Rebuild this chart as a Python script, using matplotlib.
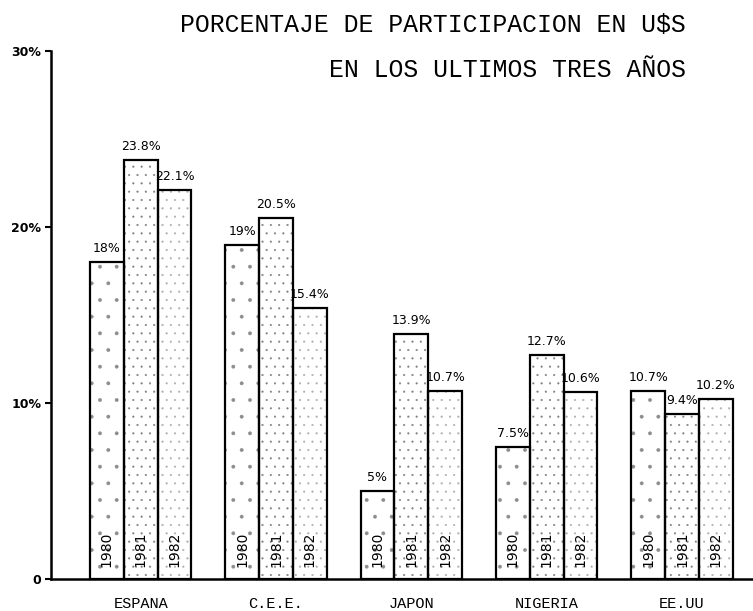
import matplotlib
matplotlib.use("Agg")
import matplotlib.pyplot as plt
import numpy as np

# data
countries = ["ESPANA", "C.E.E.", "JAPON", "NIGERIA", "EE.UU"]
years = ["1980", "1981", "1982"]
pct_1980 = [18, 19, 5, 7.5, 10.7]
pct_1981 = [23.8, 20.5, 13.9, 12.7, 9.4]
pct_1982 = [22.1, 15.4, 10.7, 10.6, 10.2]
y_ticks = [0, 10, 20, 30]
y_tick_labels = ["0", "10%", "20%", "30%"]

title_1 = "PORCENTAJE DE PARTICIPACION EN U$S"
title_2 = "EN LOS ULTIMOS TRES AÑOS"

series = [pct_1980, pct_1981, pct_1982]
hatches = [".", "..", ".."]
hatch_colors = ["0.55", "0.5", "0.68"]

plt.rcParams["hatch.linewidth"] = 0.3

fig = plt.figure(figsize=(7.53, 6.11), dpi=100)
ax = fig.add_axes([51 / 753, 32 / 611, 1 - 51 / 753, 528 / 611])

group_x = np.arange(len(countries)) * 4

for i, (vals, yr) in enumerate(zip(series, years)):
    xs = group_x + i
    # dotted fill (hatch takes the edge colour), then a black outline on top
    ax.bar(xs, vals, width=1, align="edge", facecolor="white",
           edgecolor=hatch_colors[i], linewidth=0, hatch=hatches[i], zorder=2)
    ax.bar(xs, vals, width=1, align="edge", facecolor="none",
           edgecolor="black", linewidth=1.6, zorder=3)
    for x, v in zip(xs, vals):
        # value on top of each bar
        ax.text(x + 0.5, v + 0.4, f"{v:g}%", ha="center", va="bottom",
                fontsize=9, family="DejaVu Sans")
        # year written up the bar
        ax.text(x + 0.5, 0.7, yr, rotation=90, ha="center", va="bottom",
                fontsize=10, family="DejaVu Sans", zorder=4)

ax.set_xlim(-1.15, 19.6)
ax.set_ylim(0, 30)

ax.spines["top"].set_visible(False)
ax.spines["right"].set_visible(False)
ax.spines["left"].set_linewidth(1.8)
ax.spines["bottom"].set_linewidth(1.8)
ax.spines["bottom"].set_zorder(5)

ax.set_yticks(y_ticks)
ax.set_yticklabels(y_tick_labels, fontsize=9, fontweight="bold")
ax.tick_params(axis="y", length=4, width=1.5, pad=3)

ax.set_xticks(group_x + 1.5)
ax.set_xticklabels(countries, fontsize=11, family="Liberation Mono")
ax.tick_params(axis="x", length=0, pad=13)

fig.text(686 / 753, 1 - 25 / 611, title_1, ha="right", va="center",
         fontsize=17.8, family="Liberation Mono")
fig.text(686 / 753, 1 - 70 / 611, title_2, ha="right", va="center",
         fontsize=17.8, family="Liberation Mono")

fig.savefig("out.png", dpi=100)
